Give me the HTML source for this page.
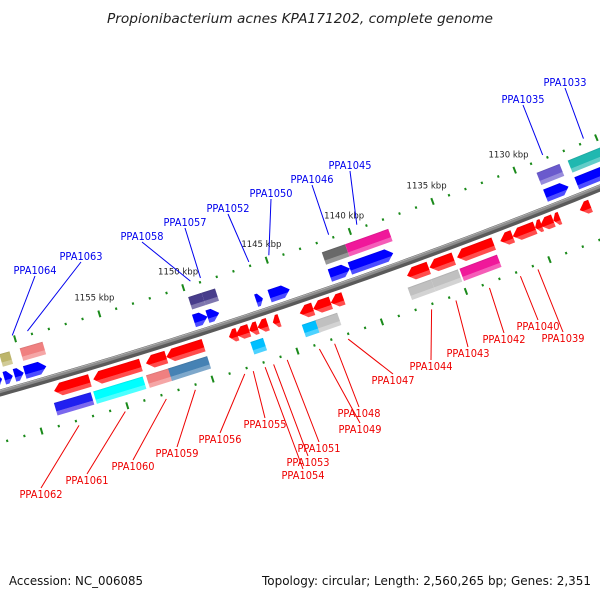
<!DOCTYPE html>
<html><head><meta charset="utf-8">
<style>
html,body{margin:0;padding:0;background:#fff;}
svg{display:block;}
text{font-family:"DejaVu Sans","Liberation Sans",sans-serif;}
</style></head>
<body>
<svg id="map" width="600" height="600" viewBox="0 0 600 600" xmlns="http://www.w3.org/2000/svg">
<rect width="600" height="600" fill="#fff"/>
<text x="300" y="23" text-anchor="middle" font-size="13" font-style="italic" fill="#222" textLength="386" lengthAdjust="spacingAndGlyphs">Propionibacterium acnes KPA171202, complete genome</text>
<g id="layer"></g>
<text x="9" y="585" font-size="12" fill="#111" textLength="134" lengthAdjust="spacingAndGlyphs">Accession: NC_006085</text>
<text x="262" y="585" font-size="12" fill="#111" textLength="329" lengthAdjust="spacingAndGlyphs">Topology: circular; Length: 2,560,265 bp; Genes: 2,351</text>
</svg>
<script>
// ---- data (kbp) ----
var fwdGeneStart = [1161.75,1161.2,1160.6,1160.0,1150.0,1149.2,1146.3,1145.5,1141.9,1140.7,1128.9,1127.0];
var fwdGeneEnd   = [1161.33,1160.7,1160.06,1158.73,1149.2,1148.5,1145.9,1144.3,1140.7,1138.1,1127.5,1124.6];
var fwdCogStart = [1161.1,1159.9,1149.9,1149.1,1141.9,1140.5,1128.9,1127.0];
var fwdCogEnd   = [1160.5,1158.55,1149.1,1148.3,1140.5,1137.9,1127.5,1124.6];
var fwdCogColor = ["#bdb56b","#f08080","#483d8b","#483d8b","#696969","#f0189a","#6a5acd","#20b8b0"];
var revGeneStart = [1158.7,1156.4,1153.3,1152.1,1148.4,1148.0,1147.2,1146.7,1145.8,1144.2,1143.4,1142.35,1137.8,1136.45,1134.8,1132.2,1131.45,1130.1,1129.8,1129.0,1127.4];
var revGeneEnd   = [1156.6,1153.6,1152.1,1149.9,1147.9,1147.2,1146.7,1146.1,1145.4,1143.4,1142.35,1141.6,1136.5,1135.0,1132.6,1131.45,1130.1,1129.7,1129.0,1128.6,1126.75];
var revCogStart = [1158.9,1156.6,1153.5,1152.2,1147.35,1144.3,1143.5,1138.0,1136.6,1134.9];
var revCogEnd   = [1156.75,1153.7,1152.05,1149.9,1146.6,1143.4,1142.2,1136.6,1135.0,1132.65];
var revCogColor = ["#2020f0","#00ffff","#f08080","#4682b4","#00bfff","#00bfff","#c0c0c0","#c0c0c0","#c0c0c0","#f0189a"];
var tickLabels = [1155,1150,1145,1140,1135,1130];
var upNames = ["PPA1064","PPA1063","PPA1058","PPA1057","PPA1052","PPA1050","PPA1046","PPA1045","PPA1035","PPA1033"];
var upKbp = [1160.1,1159.2,1149.5,1148.9,1146.0,1144.8,1141.2,1139.5,1128.2,1125.7];
var lowNames = ["PPA1062","PPA1061","PPA1060","PPA1059","PPA1056","PPA1055","PPA1054","PPA1053","PPA1051","PPA1049","PPA1048","PPA1047","PPA1044","PPA1043","PPA1042","PPA1040","PPA1039"];
var lowKbp = [1157.9,1155.2,1152.8,1151.1,1148.2,1147.7,1147.0,1146.5,1145.7,1143.8,1142.9,1142.1,1137.15,1135.7,1133.7,1131.85,1130.8];
// ---- label layout (screen) ----
var upLabelX = [35,81,142,185,228,271,312,350,523,565];
var upLabelY = [270,256,236,222,208,193,179,165,99,82];
var lowLabelX = [41,87,133,177,220,265,303,308,319,360,359,393,431,468,504,538,563];
var lowLabelY = [494,480,466,453,439,424,475,462,448,429,413,380,366,353,339,326,338];

// ---- geometry ----
var P1=[0,393],P2=[290,303],P3=[600,188];
function circle(a,b,c){
  var ax=a[0],ay=a[1],bx=b[0],by=b[1],cx=c[0],cy=c[1];
  var d=2*(ax*(by-cy)+bx*(cy-ay)+cx*(ay-by));
  var ux=((ax*ax+ay*ay)*(by-cy)+(bx*bx+by*by)*(cy-ay)+(cx*cx+cy*cy)*(ay-by))/d;
  var uy=((ax*ax+ay*ay)*(cx-bx)+(bx*bx+by*by)*(ax-cx)+(cx*cx+cy*cy)*(bx-ax))/d;
  return [ux,uy,Math.hypot(ax-ux,ay-uy)];
}
var C=circle(P1,P2,P3), CX=C[0], CY=C[1], R=C[2];
var aA=Math.atan2(316-CY,100-CX), aB=Math.atan2(171-CY,515-CX);
if(aB-aA>Math.PI) aB-=2*Math.PI; if(aA-aB>Math.PI) aB+=2*Math.PI;
function ang(k){return aA+(k-1155)*(aB-aA)/(1130-1155);}
var sgn=1;
(function(){var a=ang(1140);var y0=CY+R*Math.sin(a),y1=CY+(R+10)*Math.sin(a);if(y1>y0)sgn=-1;})();
function pt(k,d){var a=ang(k),r=R+sgn*d;return [CX+r*Math.cos(a),CY+r*Math.sin(a)];}
function ps(arr){return arr.map(function(p){return p[0].toFixed(2)+","+p[1].toFixed(2);}).join(" ");}

var NS="http://www.w3.org/2000/svg";
var layer=document.getElementById("layer");
var defs=document.createElementNS(NS,"defs");
layer.appendChild(defs);
function mk(tag,attrs,parent){var e=document.createElementNS(NS,tag);for(var k in attrs)e.setAttribute(k,attrs[k]);(parent||layer).appendChild(e);return e;}
function lighten(hex,f){var n=parseInt(hex.slice(1),16);var r=n>>16,g=(n>>8)&255,b=n&255;
  r=Math.round(r+(255-r)*f);g=Math.round(g+(255-g)*f);b=Math.round(b+(255-b)*f);
  return "rgb("+r+","+g+","+b+")";}
function darken(hex,f){var n=parseInt(hex.slice(1),16);var r=n>>16,g=(n>>8)&255,b=n&255;
  return "rgb("+Math.round(r*(1-f))+","+Math.round(g*(1-f))+","+Math.round(b*(1-f))+")";}
var gid=0;
function grad(k,d0,h,col,bottomCol){
  var a=pt(k,d0+h),b=pt(k,d0-h);var id="g"+(gid++);
  var g=mk("linearGradient",{id:id,gradientUnits:"userSpaceOnUse",x1:a[0],y1:a[1],x2:b[0],y2:b[1]},defs);
  var st=[[0,darken(col,0.12)],[0.1,col],[0.65,col],[0.68,bottomCol||lighten(col,0.3)],[1,bottomCol||lighten(col,0.3)]];
  st.forEach(function(s){mk("stop",{offset:s[0],"stop-color":s[1]},g);});
  return "url(#"+id+")";
}
var H=6.5;
function gene(s,e,d0,col,kind,name){
  var len=s-e, hk=Math.min(0.4,len*0.6), pts;
  if(kind==="right") pts=[pt(s,d0+H),pt(e+hk,d0+H),pt(e,d0),pt(e+hk,d0-H),pt(s,d0-H)];
  else if(kind==="left") pts=[pt(s,d0),pt(s-hk,d0+H),pt(e,d0+H),pt(e,d0-H),pt(s-hk,d0-H)];
  else pts=[pt(s,d0+H),pt(e,d0+H),pt(e,d0-H),pt(s,d0-H)];
  var el=mk("polygon",{points:ps(pts),fill:grad((s+e)/2,d0,H,col,kind==="box2"?"#7b68ee":null)});
  
  
}

// ticks
[48,-48].forEach(function(dr){
  for(var k=1121;k<=1165;k++){
    var big=(k%5===0), L=big?3.5:1.2;
    var a=pt(k,dr+L),b=pt(k,dr-L);
    var t=mk("line",{x1:a[0],y1:a[1],x2:b[0],y2:b[1],stroke:"#1a8a1a","stroke-width":2});
    
    
  }
});
tickLabels.forEach(function(k){
  var p=pt(k,65);
  var t=mk("text",{x:p[0],y:p[1]+3,"text-anchor":"middle","font-size":"8.5",fill:"#222"});
  t.textContent=k+" kbp";
  
  
});

// backbone
function arcPath(d){var s="";for(var k=1166;k>=1119;k-=0.5){var p=pt(k,d);s+=(s?"L":"M")+p[0].toFixed(2)+","+p[1].toFixed(2);}return s;}
var bb=mk("path",{d:arcPath(0),stroke:"#5a5a5a","stroke-width":7,fill:"none"});


var bb2=mk("path",{d:arcPath(1.3),stroke:"#8a8a8a","stroke-width":3,fill:"none"});


var bb3=mk("path",{d:arcPath(2.6),stroke:"#b0b0b0","stroke-width":1,fill:"none"});



// genes
fwdGeneStart.forEach(function(s,i){gene(s,fwdGeneEnd[i],13,"#0000ff","right","forward-gene");});
fwdCogStart.forEach(function(s,i){gene(s,fwdCogEnd[i],31,fwdCogColor[i],"box","forward-cog-box");});
revGeneStart.forEach(function(s,i){gene(s,revGeneEnd[i],-13,"#ff0000","left","reverse-gene");});
revCogStart.forEach(function(s,i){gene(s,revCogEnd[i],-31,revCogColor[i],i===0?"box2":"box","reverse-cog-box");});

// labels
upNames.forEach(function(n,i){
  var p=pt(upKbp[i],52);
  var l=mk("line",{x1:upLabelX[i],y1:upLabelY[i]+6,x2:p[0],y2:p[1],stroke:"#0000ee","stroke-width":1});
  
  
  var t=mk("text",{x:upLabelX[i],y:upLabelY[i]+4,"text-anchor":"middle","font-size":"10.5",fill:"#0000ee",textLength:"43",lengthAdjust:"spacingAndGlyphs"});
  t.textContent=n;
  
  
});
lowNames.forEach(function(n,i){
  var p=pt(lowKbp[i],-53);
  var l=mk("line",{x1:p[0],y1:p[1],x2:lowLabelX[i],y2:lowLabelY[i]-6,stroke:"#ee0000","stroke-width":1});
  
  
  var t=mk("text",{x:lowLabelX[i],y:lowLabelY[i]+4,"text-anchor":"middle","font-size":"10.5",fill:"#ee0000",textLength:"43",lengthAdjust:"spacingAndGlyphs"});
  t.textContent=n;
  
  
});
</script>
</body></html>
